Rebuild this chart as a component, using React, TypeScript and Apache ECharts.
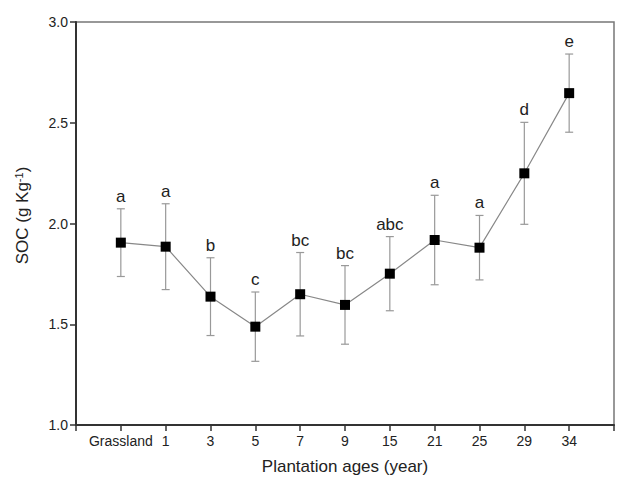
import React, { useEffect, useRef } from "react";
import * as echarts from "echarts";

const categories = ["Grassland", "1", "3", "5", "7", "9", "15", "21", "25", "29", "34"];
const socMean = [1.905, 1.885, 1.637, 1.488, 1.649, 1.596, 1.751, 1.918, 1.88, 2.249, 2.647];
const socSD = [0.168, 0.213, 0.193, 0.172, 0.207, 0.195, 0.184, 0.222, 0.16, 0.253, 0.194];
const letters = ["a", "a", "b", "c", "bc", "bc", "abc", "a", "a", "d", "e"];
const yTicks = [1.0, 1.5, 2.0, 2.5, 3.0];

const FONT = "Liberation Sans, Arial, sans-serif";

export default function App() {
  const ref = useRef<HTMLDivElement>(null);
  useEffect(() => {
    if (!ref.current) return;
    const chart = echarts.init(ref.current, undefined, { renderer: "svg" });
    const lineData = socMean.map((v, i) => [i + 1, v]);
    const errData = socMean.map((v, i) => [i + 1, v - socSD[i], v + socSD[i], i]);
    chart.setOption({
      animation: false,
      backgroundColor: "#fff",
      textStyle: { fontFamily: FONT },
      grid: {
        left: 76,
        right: 1,
        top: 22,
        bottom: 60,
        show: true,
        borderColor: "#777",
        borderWidth: 1.5,
      },
      xAxis: {
        type: "value",
        min: 0,
        max: 12,
        interval: 1,
        name: "Plantation ages (year)",
        nameLocation: "middle",
        nameGap: 33,
        nameTextStyle: { fontSize: 17, color: "#222", fontFamily: FONT },
        axisLine: { show: true, lineStyle: { color: "#333", width: 2 } },
        axisTick: { show: true, inside: false, length: 6, lineStyle: { color: "#333", width: 1.5 } },
        splitLine: { show: false },
        axisLabel: {
          fontSize: 14,
          color: "#222",
          margin: 9,
          fontFamily: FONT,
          formatter: (v: number) => (v >= 1 && v <= categories.length ? categories[v - 1] : ""),
        },
      },
      yAxis: {
        type: "value",
        min: yTicks[0],
        max: yTicks[yTicks.length - 1],
        interval: 0.5,
        name: "{n|SOC (g Kg}{sup|-1}{n|)}",
        nameLocation: "middle",
        nameGap: 45,
        nameRotate: 90,
        nameTextStyle: {
          fontSize: 17,
          color: "#222",
          fontFamily: FONT,
          padding: [0, 0, 0, 16],
          rich: {
            n: { fontSize: 17, color: "#222", fontFamily: FONT },
            sup: { fontSize: 11, verticalAlign: "top", color: "#222", fontFamily: FONT, padding: [0, 0, 7, 0] },
          },
        },
        axisLine: { show: true, lineStyle: { color: "#333", width: 2 } },
        axisTick: { show: true, inside: false, length: 6, lineStyle: { color: "#333", width: 1.5 } },
        splitLine: { show: false },
        axisLabel: {
          fontSize: 14,
          color: "#222",
          margin: 8,
          fontFamily: FONT,
          formatter: (v: number) => v.toFixed(1),
        },
      },
      series: [
        {
          type: "custom",
          data: errData,
          z: 2,
          renderItem: (params: any, api: any) => {
            const x = api.value(0);
            const lo = api.value(1);
            const hi = api.value(2);
            const idx = api.value(3);
            const pLo = api.coord([x, lo]);
            const pHi = api.coord([x, hi]);
            const cw = 4;
            const st = { stroke: "#999", lineWidth: 1.2 };
            return {
              type: "group",
              children: [
                { type: "line", shape: { x1: pLo[0], y1: pLo[1], x2: pHi[0], y2: pHi[1] }, style: st },
                { type: "line", shape: { x1: pLo[0] - cw, y1: pLo[1], x2: pLo[0] + cw, y2: pLo[1] }, style: st },
                { type: "line", shape: { x1: pHi[0] - cw, y1: pHi[1], x2: pHi[0] + cw, y2: pHi[1] }, style: st },
                {
                  type: "text",
                  x: pHi[0],
                  y: pHi[1] - 4,
                  style: {
                    text: letters[idx],
                    fontSize: 17,
                    fill: "#222",
                    fontFamily: FONT,
                    align: "center",
                    verticalAlign: "bottom",
                  },
                },
              ],
            };
          },
        },
        {
          type: "line",
          data: lineData,
          z: 3,
          symbol: "rect",
          symbolSize: 10,
          itemStyle: { color: "#000" },
          lineStyle: { color: "#888", width: 1.2 },
        },
      ],
    });
    return () => chart.dispose();
  }, []);
  return <div ref={ref} style={{ position: "fixed", left: 0, top: 0, width: 617, height: 485 }} />;
}
